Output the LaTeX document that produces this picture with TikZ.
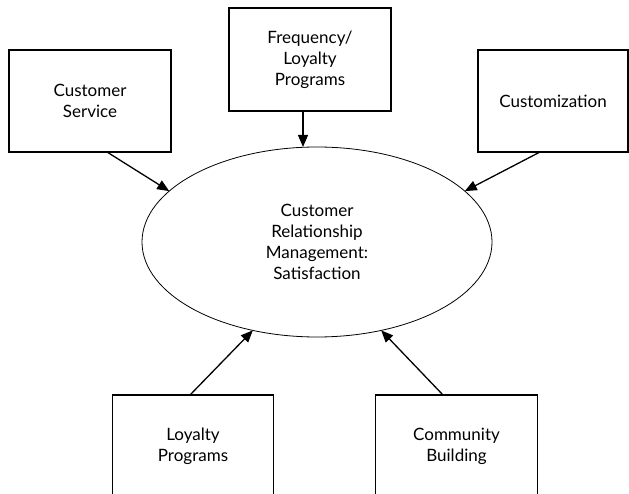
\documentclass[tikz,border=0pt]{standalone}
\usepackage{fontspec}
\setmainfont{Lato}
\usetikzlibrary{shapes.geometric,arrows.meta}
\tikzset{
  box/.style={draw=black, line width=1.1pt, rectangle, inner sep=0pt, outer sep=0pt,
    align=center, font=\fontsize{17}{20.8}\selectfont},
  crmshape/.style={draw=black, line width=0.8pt, ellipse, inner sep=0pt, outer sep=0pt,
    minimum width=350pt, minimum height=190pt, align=center, font=\fontsize{17}{20.8}\selectfont},
  arr/.style={line width=1.3pt, -{Triangle[length=12pt,width=10pt]}}
}
\begin{document}
\begin{tikzpicture}[x=1pt,y=-1pt]
\clip (0,0) rectangle (629,494);
\fill[white] (0,0) rectangle (629,494);
\node[box, minimum width=162pt, minimum height=102pt] (cs) at (90,101) {Customer\\Service};
\node[box, minimum width=162pt, minimum height=103pt] (freq) at (310,59.5) {Frequency/\\Loyalty\\Programs};
\node[box, minimum width=150pt, minimum height=102pt] (cust) at (553,101) {Customization};
\node[box, minimum width=161pt, minimum height=102pt] (loy) at (193,446) {Loyalty\\Programs};
\node[box, minimum width=162pt, minimum height=102pt] (comm) at (456.5,446) {Community\\Building};
\node[crmshape] (crm) at (317,242) {Customer\\Relationship\\Management:\\Satisfaction};
\coordinate (fs) at ([xshift=-7pt]freq.south);
\draw[arr] ([xshift=17pt]cs.south) -- (crm.161);
\draw[arr] (fs) -- (fs |- crm.north);
\draw[arr] ([xshift=-13pt]cust.south) -- (crm.19);
\draw[arr] ([xshift=-3pt]loy.north) -- (crm.234);
\draw[arr] ([xshift=-13.5pt]comm.north) -- (crm.306);
\end{tikzpicture}
\end{document}
